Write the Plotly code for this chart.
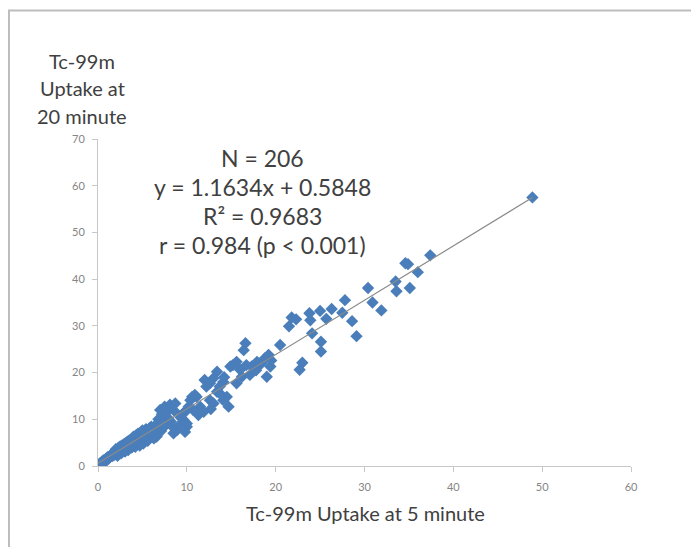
import plotly.graph_objects as go

# ---- data ----
# uptake at 5 min (x) and at 20 min (y), grouped by region of the plot
upper_x = [48.9, 37.4, 34.6, 34.9, 36.0, 33.5, 33.6, 35.1, 30.4, 30.9, 31.9, 27.8, 27.5, 26.3, 28.6,
           29.1, 25.0, 25.7, 23.8, 23.9, 24.1, 25.1, 25.1, 23.0, 22.7, 21.8, 22.3, 21.5, 20.5]
upper_y = [57.5, 45.1, 43.4, 43.2, 41.5, 39.5, 37.4, 38.1, 38.1, 35.0, 33.3, 35.5, 32.8, 33.6, 31.0,
           27.8, 33.2, 31.5, 32.7, 31.2, 28.4, 26.6, 24.5, 22.1, 20.6, 31.8, 31.4, 29.9, 25.9]

mid_x = [16.6, 16.4, 19.2, 18.8, 18.4, 19.4, 19.0, 17.9, 17.3, 16.7, 15.6, 15.2, 17.1, 16.0, 16.2,
         14.9, 13.4, 13.0, 12.0, 12.2, 12.6, 14.1, 13.7, 15.6, 14.5, 14.1, 14.7, 13.4, 13.7, 12.6,
         13.0, 11.1, 10.4, 10.2, 10.7, 11.5, 11.9, 11.3, 9.6, 10.6, 10.9, 17.8, 18.2, 19.5, 14.2, 12.7]
mid_y = [26.3, 24.8, 23.8, 23.1, 22.0, 21.3, 19.1, 22.3, 21.3, 21.6, 22.3, 21.6, 19.5, 20.6, 19.1,
         21.3, 20.2, 18.8, 18.4, 17.0, 17.7, 18.0, 17.0, 17.7, 14.8, 14.1, 12.7, 15.9, 15.6, 14.1,
         13.4, 14.8, 14.1, 12.7, 12.0, 12.7, 11.6, 10.9, 11.3, 14.8, 15.2, 20.5, 21.7, 22.6, 19.0, 12.2]

band3_x = [7.0, 7.5, 8.1, 8.7, 7.4, 7.9, 8.5, 8.9, 10.0, 9.8, 6.6, 7.8, 7.2, 8.4, 9.6,
           10.0, 8.2, 9.2, 6.9, 7.6, 8.0, 6.8, 9.3, 9.9, 8.6, 6.4, 7.1, 6.2, 5.8, 6.0]
band3_y = [12.0, 12.7, 13.1, 13.4, 10.6, 10.2, 7.0, 7.7, 9.1, 7.3, 6.3, 11.6, 11.1, 8.4, 9.9,
           8.4, 9.5, 8.8, 9.0, 8.7, 12.4, 10.0, 10.4, 11.8, 11.8, 8.2, 7.5, 7.6, 7.8, 6.6]

band2_x = [4.0, 4.1, 4.2, 4.3, 4.4, 4.5, 4.6, 4.7, 4.8, 4.9, 5.0, 5.1, 5.2, 5.3, 5.4,
           5.5, 5.6, 5.7, 5.8, 5.9, 6.0, 6.1, 6.2, 6.3, 6.4, 4.15, 4.55, 4.95, 5.35, 5.75,
           3.9, 3.8, 4.25, 5.05, 5.65]
band2_y = [6.3, 5.6, 4.1, 6.6, 5.0, 6.9, 5.5, 4.4, 7.2, 5.8, 7.6, 4.8, 6.8, 5.3, 7.9,
           7.0, 5.4, 6.0, 8.1, 6.7, 8.4, 6.2, 7.0, 5.9, 8.6, 5.3, 6.2, 5.4, 7.1, 6.9,
           5.6, 4.0, 6.1, 6.6, 7.5]

band1_x = [2.0, 2.1, 2.2, 2.3, 2.4, 2.5, 2.6, 2.7, 2.8, 2.9, 3.0, 3.1, 3.2, 3.3, 3.4,
           3.5, 3.6, 3.7, 3.8, 3.9, 2.05, 2.35, 2.65, 2.95, 3.25, 3.55, 3.85, 2.45, 3.15, 3.45,
           2.15, 2.75, 3.05, 3.65, 3.95]
band1_y = [3.6, 3.2, 2.2, 3.9, 3.0, 4.2, 2.7, 4.4, 3.4, 4.6, 3.5, 4.9, 3.9, 5.2, 3.4,
           5.4, 4.3, 5.6, 4.0, 5.9, 3.3, 2.8, 3.5, 3.7, 4.1, 5.0, 4.4, 3.9, 4.6, 5.2,
           2.5, 3.1, 3.1, 4.1, 4.8]

band0_x = [0.0, 0.1, 0.2, 0.25, 0.3, 0.4, 0.45, 0.5, 0.55, 0.6, 0.75, 0.8, 0.9, 0.95, 1.0,
           1.05, 1.1, 1.2, 1.25, 1.3, 1.4, 1.5, 1.6, 1.65, 1.7, 1.8, 1.85, 1.9, 1.95, 0.05, 0.65]
band0_y = [0.0, 0.3, 0.5, 0.2, 0.6, 0.8, 0.5, 1.0, 0.7, 1.2, 1.3, 1.1, 1.5, 1.2, 1.7,
           1.4, 1.9, 1.6, 2.0, 1.8, 2.2, 2.4, 2.1, 2.6, 2.3, 2.7, 2.4, 2.9, 2.6, 0.2, 0.8]

x_values = upper_x + mid_x + band3_x + band2_x + band1_x + band0_x
y_values = upper_y + mid_y + band3_y + band2_y + band1_y + band0_y

slope = 1.1634
intercept = 0.5848
stats_lines = ["N = 206", "y = 1.1634x + 0.5848", "R² = 0.9683", "r = 0.984 (p < 0.001)"]
x_title = "Tc-99m Uptake at 5 minute"
y_title_lines = ["Tc-99m", "Uptake at", "20 minute"]
x_ticks = [0, 10, 20, 30, 40, 50, 60]
y_ticks = [0, 10, 20, 30, 40, 50, 60, 70]

# ---- figure ----
trend_x = [0, max(x_values)]
trend_y = [slope * v + intercept for v in trend_x]

fig = go.Figure()
fig.add_trace(go.Scatter(
    x=x_values, y=y_values, mode="markers",
    marker=dict(symbol="diamond", size=9.5, color="#4a7ebb", line=dict(width=0)),
    hoverinfo="x+y", showlegend=False,
))
fig.add_trace(go.Scatter(
    x=trend_x, y=trend_y, mode="lines",
    line=dict(color="#8a8a8a", width=1.2), hoverinfo="skip", showlegend=False,
))

W, H = 699, 547
OFF = 8  # page body margin
PL, PR, PT, PB = 98, 631, 139, 466  # plot area, page pixel coords

def px(xp):
    return (xp - PL) / (PR - PL)

def py(yp):
    return (PB - yp) / (PB - PT)

text_color = "#404040"
tick_color = "#858585"
font_family = "Lato, 'Open Sans', sans-serif"

annotations = []
for line, yp in zip(stats_lines, [158, 187, 216, 245]):
    annotations.append(dict(text=line, x=px(262), y=py(yp), xref="paper", yref="paper",
                            showarrow=False, xanchor="center", yanchor="middle",
                            font=dict(size=23, color=text_color, family=font_family)))
for line, yp in zip(y_title_lines, [61, 88, 116]):
    annotations.append(dict(text=line, x=px(82), y=py(yp), xref="paper", yref="paper",
                            showarrow=False, xanchor="center", yanchor="middle",
                            font=dict(size=20, color=text_color, family=font_family)))
annotations.append(dict(text=x_title, x=px(365), y=py(513), xref="paper", yref="paper",
                        showarrow=False, xanchor="center", yanchor="middle",
                        font=dict(size=20, color=text_color, family=font_family)))

axis_common = dict(
    showgrid=False, zeroline=False, showline=True, linecolor="#c8c8c8", linewidth=1,
    ticks="outside", ticklen=5, tickcolor="#c8c8c8", tickwidth=1,
    tickfont=dict(size=11, color=tick_color, family=font_family),
)

fig.update_layout(
    width=W, height=H,
    margin=dict(l=PL - OFF, r=W - (PR - OFF), t=PT - OFF, b=H - (PB - OFF), pad=0),
    paper_bgcolor="white", plot_bgcolor="white",
    xaxis=dict(range=[0, 60], tickvals=x_ticks, ticklabelstandoff=6, **axis_common),
    yaxis=dict(range=[0, 70], tickvals=y_ticks, ticklabelstandoff=5, **axis_common),
    annotations=annotations,
    shapes=[dict(type="rect", xref="paper", yref="paper",
                 x0=px(9), x1=px(760), y0=py(620), y1=py(10.5),
                 line=dict(color="#bdbdbd", width=2), fillcolor="rgba(0,0,0,0)", layer="below")],
)

fig.write_html("out.html")
